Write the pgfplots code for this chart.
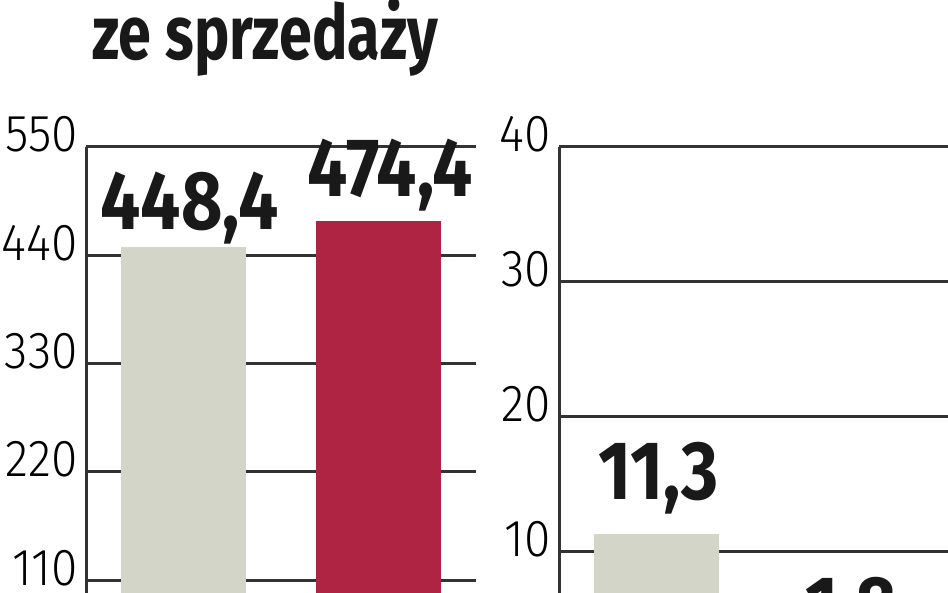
\documentclass[border=0pt]{standalone}
\usepackage{pgfplots}
\pgfplotsset{compat=1.18}
\usepackage{fontspec}
\setmainfont{Fira Sans}
\newfontfamily\tickfont{Fira Sans Light}[FakeStretch=0.92]
\newfontfamily\valfont{Fira Sans}[FakeStretch=0.86]
\newfontfamily\titlefont{Fira Sans}[FakeStretch=0.78]
\definecolor{barGray}{HTML}{D4D5C9}
\definecolor{barRed}{HTML}{AF2443}
\definecolor{lineGray}{HTML}{333333}
\pgfplotsset{panel/.style={
  scale only axis, width=390pt, height=446pt,
  axis x line=none, axis y line=left,
  y axis line style={-, line width=3pt, color=lineGray},
  major tick length=0pt, ytick style={draw=none},
  ymajorgrids, grid style={line width=3pt, color=lineGray},
  xmin=-0.5, xmax=1.5, clip=false,
  ybar, bar width=125pt, bar shift=0pt,
  yticklabel style={font=\fontsize{52}{52}\selectfont\tickfont, anchor=base east, inner sep=0pt, xshift=-8pt, yshift=-5pt, text=black},
  nodes near coords, point meta=explicit symbolic,
  nodes near coords align={anchor=base},
  every node near coord/.append style={font=\fontsize{83}{83}\selectfont\valfont\bfseries, anchor=base, inner sep=0pt, text=black!90},
}}
\begin{document}
\begin{tikzpicture}[x=1pt,y=1pt]
\useasboundingbox (0,0) rectangle (948,593);
\clip (0,0) rectangle (948,593);
\node[anchor=base west, inner sep=0pt, font=\fontsize{76}{76}\selectfont\titlefont\bfseries, text=black!90] at (92,533) {ze sprzedaży};
\begin{axis}[panel, at={(86pt,0pt)}, anchor=south west,
  ymin=96.8, ymax=550, ytick={110,220,330,440,550}, yticklabels={110,220,330,440,550}]
\addplot[fill=barGray, draw=none, every node near coord/.append style={xshift=6pt, yshift=17pt}] coordinates {(0,448.4) [448,4]};
\addplot[fill=barRed, draw=none, every node near coord/.append style={xshift=12pt, yshift=25pt}] coordinates {(1,474.4) [474,4]};
\end{axis}
\begin{axis}[panel, at={(559pt,0pt)}, anchor=south west,
  ymin=6.96, ymax=40, ytick={10,20,30,40}, yticklabels={10,20,30,40}]
\addplot[fill=barGray, draw=none, every node near coord/.append style={xshift=2pt, yshift=35pt}] coordinates {(0,11.3) [11,3]};
\addplot[fill=barRed, draw=none, every node near coord/.append style={xshift=0pt, yshift=28pt}] coordinates {(1,1.8) [1,8]};
\end{axis}
\end{tikzpicture}
\end{document}
